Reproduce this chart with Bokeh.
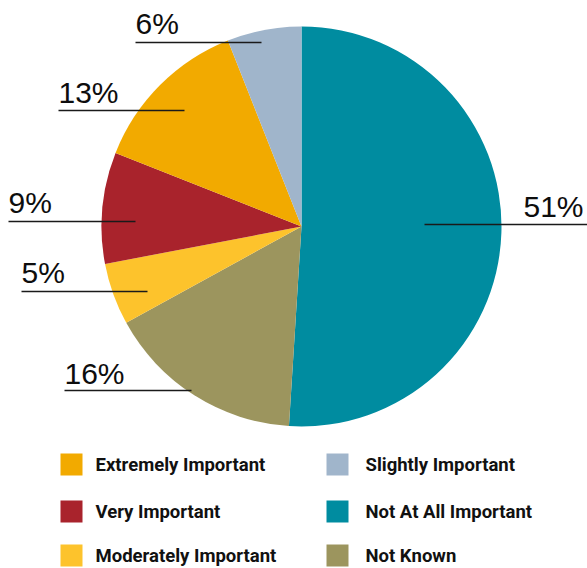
import math
from bokeh.plotting import figure
from bokeh.models import Range1d, ColumnDataSource
from bokeh.core.properties import value
from bokeh.embed import file_html
from bokeh.resources import INLINE

# ---- data ----
categories = ["Not At All Important", "Not Known", "Moderately Important",
              "Very Important", "Extremely Important", "Slightly Important"]
percent = [51, 16, 5, 9, 13, 6]
colors = ["#008ca0", "#9c955e", "#fdc32c", "#a9232c", "#f2aa00", "#a0b5cb"]
legend_order = ["Extremely Important", "Very Important", "Moderately Important",
                "Slightly Important", "Not At All Important", "Not Known"]

# ---- layout (screen pixels from the top-left corner) ----
W, H = 587, 568
def Y(sy):
    return H - sy

cx, cy, R = 301, 226, 200
# per-slice label layout: text x, text centre y, line x0, line x1, line y, align
label_layout = {
    "Not At All Important": (583, 206, 424, 587, 224, "right"),
    "Not Known":            (64, 373, 64, 191, 390, "left"),
    "Moderately Important": (21, 272, 21, 147, 291, "left"),
    "Very Important":       (8, 202, 8, 135, 221, "left"),
    "Extremely Important":  (58, 92, 58, 184, 110, "left"),
    "Slightly Important":   (135, 23, 135, 261, 42, "left"),
}
legend_cols = [(71, 95), (337, 365)]   # square centre x, text x
legend_rows = [464, 511, 555]          # row centre y

p = figure(width=W, height=H, output_backend="svg", toolbar_location=None,
           x_range=Range1d(0, W), y_range=Range1d(0, H),
           x_axis_location=None, y_axis_location=None, min_border=0,
           background_fill_color="white", border_fill_color="white")
p.outline_line_color = None
p.grid.visible = False

total = sum(percent)
starts, ends = [], []
cum = 0.0
for v in percent:
    starts.append(math.pi / 2 - 2 * math.pi * cum / total)
    cum += v
    ends.append(math.pi / 2 - 2 * math.pi * cum / total)

src = ColumnDataSource(dict(start=starts, end=ends, color=colors, cat=categories))
p.wedge(x=cx, y=Y(cy), radius=R, radius_units="screen", start_angle="start",
        end_angle="end", direction="clock", fill_color="color", line_color=None,
        source=src)

# leader lines & percentage labels
for cat, v in zip(categories, percent):
    tx, ty, x0, x1, ly, align = label_layout[cat]
    p.line([x0, x1], [Y(ly), Y(ly)], line_color="#1a1a1a", line_width=1.6)
    p.text(x=[tx], y=[Y(ty)], text=[f"{v}%"], text_font=value("Liberation Sans"),
           text_font_size="30px", text_color="#0d0d0d", text_align=align,
           text_baseline="middle")

# legend
cmap = dict(zip(categories, colors))
for i, cat in enumerate(legend_order):
    col, row = divmod(i, 3)
    sqx, tx = legend_cols[col]
    ry = legend_rows[row]
    p.rect(x=[sqx], y=[Y(ry)], width=22, height=22, width_units="screen",
           height_units="screen", fill_color=cmap[cat], line_color=None)
    p.text(x=[tx], y=[Y(ry)], text=[cat], text_font=value("Roboto"),
           text_font_style="bold", text_font_size="18.5px", text_color="#111111",
           text_align="left", text_baseline="middle")

open("out.html", "w").write(file_html(p, INLINE))
